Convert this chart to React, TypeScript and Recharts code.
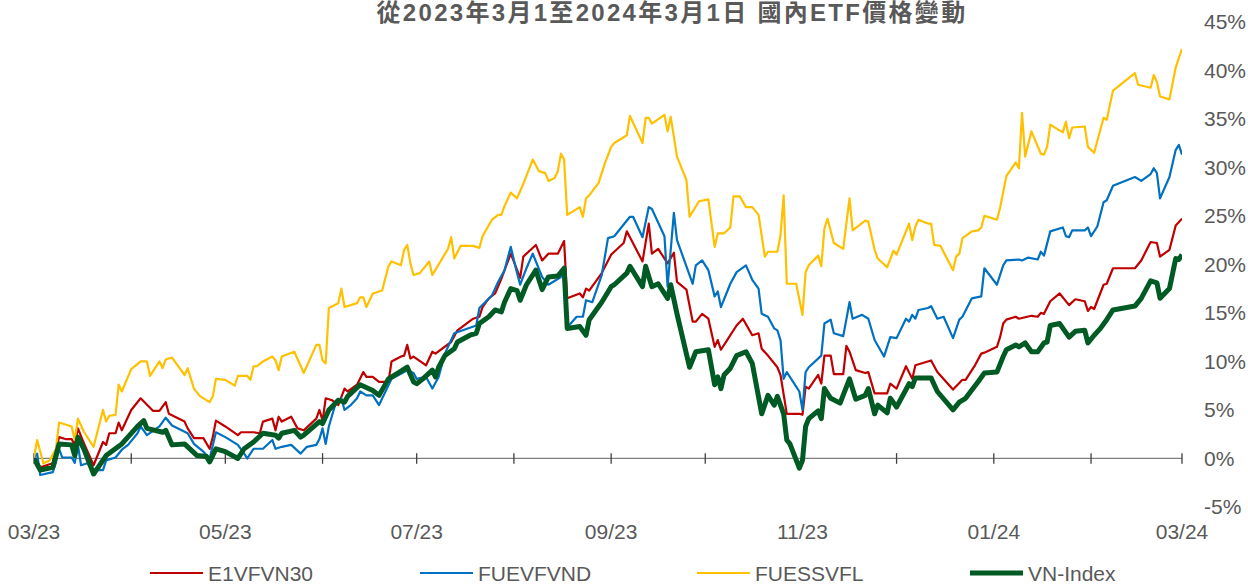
import { LineChart, Line, XAxis, YAxis, ReferenceLine } from 'recharts';

// x values are days since 2023-03-01, y values are % change
const monthTicks = [0, 31, 61, 92, 122, 153, 184, 214, 245, 275, 306, 337, 366];
const monthLabels = ['03/23', '', '05/23', '', '07/23', '', '09/23', '', '11/23', '', '01/24', '', '03/24'];
const yTicks = [-5, 0, 5, 10, 15, 20, 25, 30, 35, 40, 45];

const e1Days = [0, 2, 6, 8, 10, 12, 13, 14, 16, 19, 22, 23, 24, 26, 27, 28, 31, 34, 38, 40, 42, 43, 48, 49, 51, 54, 56, 57, 58, 61, 65, 66, 70, 72, 73, 76, 77, 78, 79, 82, 84, 86, 90, 91, 92, 93, 95, 97, 99, 100, 103, 105, 106, 108, 110, 113, 114, 117, 118, 119, 120, 121, 125, 127, 128, 133, 135, 140, 142, 143, 145, 147, 149, 152, 155, 156, 160, 162, 164, 167, 169, 170, 174, 175, 176, 177, 181, 184, 185, 188, 189, 194, 196, 197, 199, 202, 204, 205, 208, 210, 211, 213, 215, 217, 218, 219, 221, 222, 224, 226, 229, 231, 232, 234, 237, 238, 240, 244, 245, 246, 247, 250, 251, 252, 254, 255, 258, 259, 260, 262, 265, 266, 268, 272, 273, 275, 278, 280, 281, 286, 288, 293, 296, 297, 300, 302, 303, 307, 308, 309, 310, 313, 314, 318, 320, 321, 322, 324, 327, 330, 332, 335, 336, 337, 338, 341, 342, 344, 351, 353, 356, 358, 359, 362, 364, 366];
const e1Values = [0.1, -0.9, -0.5, 2.2, 2.0, 2.0, 1.4, 3.1, 1.5, -0.7, 1.7, 1.4, 2.6, 2.6, 3.7, 2.9, 5.0, 6.2, 4.9, 4.9, 5.8, 4.6, 3.8, 3.1, 2.1, 2.1, 1.0, 2.2, 3.9, 3.3, 2.4, 2.7, 2.7, 2.6, 3.8, 4.1, 2.9, 4.3, 3.8, 4.3, 3.1, 2.9, 4.1, 5.0, 3.9, 6.2, 6.0, 5.5, 7.2, 6.9, 7.6, 8.9, 8.4, 8.4, 7.9, 7.9, 10.0, 10.5, 10.6, 11.7, 10.3, 10.5, 9.6, 11.0, 10.8, 12.0, 13.2, 14.4, 14.6, 15.6, 16.5, 17.0, 18.5, 21.1, 18.6, 20.8, 22.0, 20.4, 21.1, 21.1, 22.4, 16.5, 17.0, 16.6, 17.5, 17.3, 19.1, 21.0, 21.3, 22.2, 23.4, 20.3, 24.2, 21.1, 21.6, 20.1, 21.2, 18.2, 17.4, 14.1, 14.1, 14.9, 14.4, 11.5, 12.2, 11.2, 12.2, 12.7, 13.7, 14.4, 12.7, 12.9, 11.3, 10.6, 9.4, 8.6, 4.6, 4.6, 4.5, 7.4, 7.2, 8.6, 7.7, 10.6, 10.6, 8.7, 8.7, 11.6, 11.0, 9.1, 8.8, 8.9, 6.7, 6.7, 7.7, 7.2, 9.5, 8.2, 9.6, 10.1, 8.9, 7.1, 8.1, 8.1, 9.6, 10.8, 10.9, 11.5, 12.5, 13.9, 14.3, 14.6, 14.4, 14.7, 14.6, 15.0, 14.9, 16.2, 17.0, 15.8, 16.4, 16.2, 15.2, 15.6, 15.4, 17.9, 18.0, 19.6, 19.6, 20.4, 22.3, 22.2, 20.8, 21.5, 24.0, 24.7];

const fuevDays = [0, 1, 2, 6, 7, 8, 9, 12, 13, 14, 15, 17, 19, 22, 23, 26, 28, 30, 33, 34, 36, 40, 42, 44, 49, 51, 54, 56, 58, 61, 65, 67, 68, 70, 73, 76, 77, 79, 82, 85, 87, 90, 91, 92, 93, 94, 96, 98, 99, 101, 103, 104, 106, 108, 110, 114, 118, 119, 121, 122, 125, 127, 129, 131, 134, 141, 142, 146, 148, 150, 152, 154, 155, 157, 159, 162, 164, 168, 169, 170, 173, 175, 176, 178, 181, 183, 185, 188, 190, 191, 194, 196, 197, 201, 202, 204, 205, 210, 211, 213, 215, 217, 218, 219, 221, 222, 224, 227, 229, 231, 232, 234, 236, 237, 238, 239, 240, 244, 245, 246, 247, 251, 252, 254, 255, 258, 260, 261, 264, 266, 268, 271, 273, 275, 278, 279, 280, 281, 282, 285, 286, 288, 290, 293, 295, 296, 299, 302, 303, 307, 309, 310, 314, 315, 317, 320, 321, 322, 324, 328, 329, 330, 331, 335, 336, 337, 339, 341, 342, 344, 351, 353, 356, 357, 358, 359, 362, 364, 365, 366];
const fuevValues = [0.1, 0.5, -1.7, -1.4, -0.4, 1.0, 0.1, 0.1, -0.45, 1.4, -0.7, -0.5, -1.2, -1.2, -0.2, 0.1, 0.9, 1.4, 2.6, 3.3, 2.4, 3.3, 4.2, 3.4, 2.6, 1.5, 0.7, 0.0, 2.7, 2.2, 1.4, 0.5, 0.0, 1.0, 1.0, 1.9, 1.0, 1.2, 1.4, 0.5, 1.2, 1.4, 2.0, 3.1, 1.5, 3.3, 5.5, 6.2, 5.0, 5.5, 6.2, 6.9, 6.5, 6.5, 5.5, 8.2, 8.9, 9.1, 8.8, 8.2, 8.4, 7.2, 8.4, 10.8, 12.9, 13.7, 15.5, 16.8, 18.2, 19.4, 21.8, 19.1, 17.9, 19.6, 21.1, 18.7, 17.9, 18.7, 19.3, 13.5, 14.6, 14.6, 16.3, 16.1, 18.9, 22.7, 22.9, 24.1, 24.9, 24.9, 22.8, 25.9, 25.7, 22.9, 17.7, 25.3, 22.5, 18.0, 19.9, 20.4, 19.4, 16.7, 17.2, 15.6, 17.2, 18.0, 19.2, 19.9, 18.4, 17.5, 14.9, 14.6, 13.4, 13.2, 12.2, 8.2, 8.9, 6.9, 5.0, 8.9, 9.4, 10.6, 13.9, 14.3, 12.9, 12.6, 16.1, 14.4, 14.8, 14.4, 12.2, 10.5, 12.5, 12.4, 14.4, 14.1, 14.8, 14.4, 15.3, 15.5, 15.7, 14.4, 14.6, 12.4, 14.3, 14.6, 16.5, 16.7, 19.6, 17.9, 19.9, 20.4, 20.5, 20.4, 20.7, 20.5, 21.3, 20.9, 23.4, 23.8, 22.9, 22.8, 23.5, 23.5, 23.8, 22.9, 23.9, 26.4, 26.6, 28.1, 29.0, 28.6, 29.3, 29.9, 29.4, 26.8, 29.0, 31.8, 32.3, 31.3];

const fuessDays = [0, 1, 3, 5, 7, 8, 12, 13, 14, 16, 19, 22, 23, 24, 26, 27, 28, 31, 34, 36, 37, 40, 41, 42, 44, 48, 49, 51, 53, 56, 57, 58, 61, 64, 65, 68, 69, 70, 71, 73, 76, 77, 78, 79, 83, 86, 90, 91, 92, 93, 94, 97, 98, 99, 103, 104, 105, 106, 108, 111, 113, 114, 117, 118, 119, 120, 121, 123, 126, 127, 132, 133, 134, 136, 140, 142, 143, 146, 148, 149, 150, 152, 154, 156, 159, 161, 163, 164, 166, 167, 168, 169, 170, 174, 175, 176, 177, 180, 182, 184, 185, 189, 190, 194, 195, 196, 197, 201, 202, 203, 205, 208, 209, 212, 215, 217, 218, 220, 222, 223, 225, 227, 229, 231, 233, 234, 237, 238, 239, 240, 243, 245, 246, 247, 250, 251, 252, 253, 255, 258, 260, 261, 265, 266, 268, 269, 272, 274, 275, 279, 280, 281, 282, 285, 286, 287, 289, 293, 294, 295, 296, 299, 301, 302, 303, 307, 308, 310, 313, 314, 315, 316, 318, 321, 322, 323, 324, 328, 329, 330, 331, 335, 336, 338, 341, 342, 344, 351, 352, 356, 357, 358, 359, 362, 364, 366];
const fuessValues = [0.1, 1.9, -0.5, -0.2, 1.0, 3.7, 3.3, 1.9, 4.1, 2.7, 1.2, 5.0, 3.8, 4.4, 4.5, 7.6, 6.9, 9.2, 10.0, 10.0, 8.5, 10.0, 9.3, 10.2, 10.4, 8.6, 9.3, 7.2, 6.4, 5.8, 6.4, 8.2, 8.1, 7.5, 8.5, 8.5, 8.1, 9.5, 9.5, 10.0, 10.5, 10.1, 9.1, 10.5, 11.0, 8.8, 11.7, 11.7, 10.1, 9.8, 15.5, 16.0, 17.5, 15.6, 16.0, 16.6, 16.6, 15.6, 17.0, 17.3, 19.8, 20.3, 19.9, 21.5, 22.0, 20.1, 18.9, 19.1, 20.3, 18.9, 21.6, 22.8, 20.6, 21.9, 21.9, 21.7, 22.9, 24.6, 25.1, 25.1, 26.0, 27.4, 26.8, 28.3, 30.8, 29.6, 29.4, 28.6, 28.9, 29.6, 31.4, 30.8, 25.1, 25.9, 24.9, 26.8, 27.1, 28.4, 30.4, 32.1, 32.5, 33.3, 35.3, 32.5, 35.1, 35.1, 34.5, 35.4, 33.7, 35.2, 31.1, 28.7, 24.9, 26.5, 26.7, 21.8, 23.2, 23.2, 23.8, 27.0, 27.0, 25.9, 25.9, 25.1, 20.8, 21.3, 21.3, 23.0, 27.1, 18.0, 18.0, 14.8, 19.2, 19.9, 20.9, 19.8, 23.7, 24.7, 22.2, 21.6, 26.8, 23.5, 24.5, 24.4, 21.5, 20.6, 19.7, 21.4, 21.0, 24.2, 22.5, 23.9, 24.6, 24.2, 24.2, 22.0, 21.9, 19.4, 20.8, 21.1, 22.7, 23.4, 23.5, 23.8, 25.0, 24.6, 25.8, 29.1, 30.5, 29.9, 35.6, 31.1, 33.7, 31.4, 31.3, 32.1, 34.4, 33.6, 34.7, 33.0, 34.1, 34.2, 32.1, 31.5, 35.1, 34.9, 37.9, 39.7, 38.5, 38.2, 39.5, 38.8, 37.3, 37.0, 40.3, 42.2];

const vnDays = [0, 2, 6, 8, 12, 13, 14, 16, 19, 23, 28, 33, 35, 36, 41, 42, 44, 48, 49, 52, 55, 56, 57, 58, 61, 65, 67, 70, 73, 77, 78, 79, 83, 85, 86, 91, 92, 94, 97, 99, 100, 104, 108, 110, 113, 116, 119, 121, 122, 124, 127, 128, 129, 131, 134, 135, 139, 141, 142, 145, 147, 149, 150, 152, 154, 155, 157, 160, 162, 164, 167, 169, 170, 174, 176, 177, 181, 184, 185, 189, 190, 194, 195, 197, 199, 202, 203, 205, 209, 211, 215, 217, 218, 219, 220, 222, 224, 227, 229, 232, 234, 236, 237, 239, 240, 241, 244, 245, 246, 247, 250, 251, 252, 254, 257, 260, 262, 265, 266, 268, 269, 272, 273, 275, 279, 280, 281, 286, 288, 293, 295, 297, 301, 303, 307, 309, 310, 313, 314, 316, 318, 320, 322, 323, 324, 327, 330, 332, 335, 336, 338, 340, 342, 344, 351, 353, 356, 358, 359, 362, 364, 365, 366];
const vnValues = [0, -1.2, -0.9, 1.5, 1.4, 0.3, 2.2, 0.9, -1.6, 0.3, 1.5, 3.3, 3.9, 3.1, 2.7, 2.9, 1.4, 1.5, 1.2, 0.3, 0.2, -0.35, 0.3, 1.0, 0.7, 0.0, 1.0, 1.7, 2.6, 2.4, 2.1, 2.6, 2.9, 2.2, 2.4, 3.8, 3.6, 5.0, 6.0, 5.8, 6.4, 7.6, 7.0, 6.5, 8.2, 8.8, 9.4, 7.9, 7.7, 8.2, 9.1, 8.4, 9.4, 10.6, 11.3, 12.0, 12.7, 12.9, 13.9, 14.6, 15.3, 15.1, 16.1, 17.5, 17.3, 16.3, 17.9, 19.4, 17.4, 18.7, 18.8, 19.6, 13.4, 13.6, 12.7, 14.3, 16.1, 17.7, 17.9, 19.1, 19.8, 17.7, 19.8, 17.7, 18.0, 16.5, 17.9, 14.9, 9.4, 11.0, 11.2, 7.6, 8.4, 7.2, 8.6, 9.3, 10.6, 11.0, 9.8, 4.6, 6.5, 5.5, 6.4, 4.6, 1.9, 1.5, -1.0, -0.2, 3.3, 4.1, 4.9, 4.1, 7.2, 6.2, 5.7, 8.2, 6.1, 6.5, 7.2, 4.6, 5.5, 4.7, 6.2, 5.3, 7.7, 7.4, 8.3, 8.3, 6.9, 5.0, 5.8, 6.2, 7.9, 8.8, 8.9, 10.5, 11.2, 11.7, 11.5, 11.9, 11.0, 11.0, 11.9, 12.0, 13.7, 13.9, 12.5, 13.1, 13.2, 11.9, 12.7, 13.4, 14.3, 15.3, 15.7, 16.5, 18.3, 18.1, 16.5, 17.5, 20.6, 20.5, 21.0];

const series = [
  { name: 'E1VFVN30', days: e1Days, values: e1Values, color: '#C00000', width: 2.2 },
  { name: 'FUEVFVND', days: fuevDays, values: fuevValues, color: '#0070C0', width: 2.2 },
  { name: 'FUESSVFL', days: fuessDays, values: fuessValues, color: '#FFC000', width: 2.2 },
  { name: 'VN-Index', days: vnDays, values: vnValues, color: '#005A24', width: 5 },
];

const FONT = "'Liberation Sans', Arial, 'Noto Sans CJK TC', sans-serif";
const GREY = '#595959';
const LEGEND_X = [150, 420, 697, 970];

export default function App() {
  return (
    <div style={{ position: 'absolute', left: 0, top: 0, width: 1248, height: 584, background: '#fff', fontFamily: FONT }}>
      <LineChart width={1248} height={584} margin={{ top: 21.7, right: 0, bottom: 0, left: 34 }}>
        <XAxis
          type="number"
          dataKey="d"
          domain={[0, 366]}
          ticks={monthTicks}
          tickFormatter={(v) => monthLabels[monthTicks.indexOf(v)] ?? ''}
          axisLine={false}
          tickLine={false}
          tickSize={0}
          tickMargin={17}
          height={77}
          interval={0}
          tick={{ fill: GREY, fontSize: 21, fontFamily: FONT }}
          allowDataOverflow
        />
        <YAxis
          orientation="right"
          type="number"
          domain={[-5, 45]}
          ticks={yTicks}
          tickFormatter={(v) => `${v}%`}
          axisLine={false}
          tickLine={false}
          tickSize={0}
          tickMargin={22}
          width={66}
          interval={0}
          tick={{ fill: GREY, fontSize: 21, fontFamily: FONT, textAnchor: 'start' }}
        />
        <ReferenceLine y={0} stroke="#7f7f7f" strokeWidth={1.3} ifOverflow="visible" />
        {monthTicks.map((m) => (
          <ReferenceLine
            key={m}
            segment={[{ x: m, y: -0.55 }, { x: m, y: 0.55 }]}
            stroke="#404040"
            strokeWidth={1.3}
            ifOverflow="visible"
          />
        ))}
        {series.map((s) => (
          <Line
            key={s.name}
            data={s.days.map((d, i) => ({ d, v: s.values[i] }))}
            dataKey="v"
            name={s.name}
            type="linear"
            stroke={s.color}
            strokeWidth={s.width}
            strokeLinejoin="round"
            dot={false}
            isAnimationActive={false}
          />
        ))}
      </LineChart>
      <svg width={1248} height={584} style={{ position: 'absolute', left: 0, top: 0, pointerEvents: 'none' }}>
        <text
          x={672}
          y={21}
          textAnchor="middle"
          fill={GREY}
          fontSize={24}
          fontWeight="bold"
          letterSpacing={2.3}
          fontFamily="'Liberation Sans', 'Noto Sans CJK TC', sans-serif"
        >
          從2023年3月1至2024年3月1日 國內ETF價格變動
        </text>
        {series.map((s, i) => (
          <g key={s.name}>
            <line x1={LEGEND_X[i]} x2={LEGEND_X[i] + 53} y1={573} y2={573} stroke={s.color} strokeWidth={s.width} />
            <text x={LEGEND_X[i] + 58} y={580.5} fill={GREY} fontSize={21} fontFamily={FONT}>
              {s.name}
            </text>
          </g>
        ))}
      </svg>
    </div>
  );
}
